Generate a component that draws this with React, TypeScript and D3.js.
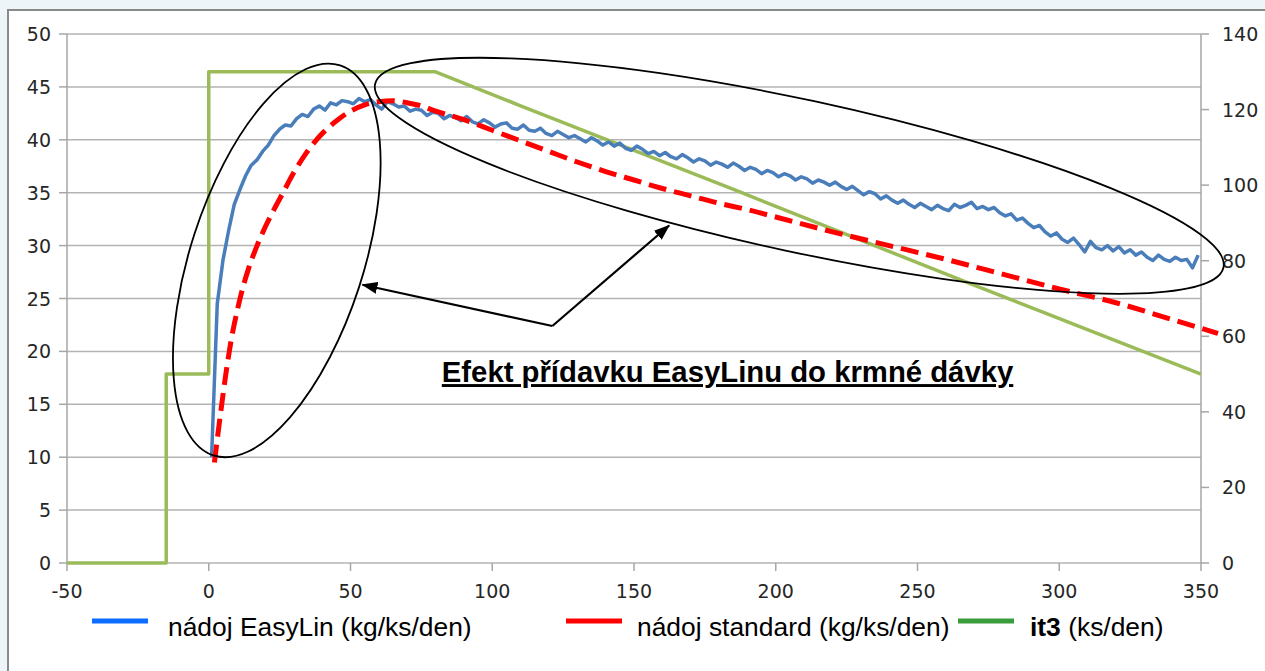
import React from "react";
import * as d3 from "d3";

// ---------- DATA ----------
const xTicks = [-50, 0, 50, 100, 150, 200, 250, 300, 350];
const yLeftTicks = [0, 5, 10, 15, 20, 25, 30, 35, 40, 45, 50];
const yRightTicks = [0, 20, 40, 60, 80, 100, 120, 140];

// nádoj EasyLin (kg/ks/den) — every 2nd day from day 1 to 349
const easyLinValues = [
  10.0, 24.5, 28.6, 31.4, 33.9, 35.3, 36.6, 37.6, 38.1, 38.9,
  39.5, 40.4, 41.0, 41.4, 41.3, 42.0, 42.4, 42.2, 42.9, 43.2,
  42.8, 43.5, 43.3, 43.7, 43.6, 43.4, 43.9, 43.6, 43.8, 43.3,
  42.9, 43.6, 43.4, 43.1, 43.2, 42.7, 42.9, 42.8, 42.3, 42.6,
  42.5, 42.0, 42.3, 42.1, 41.8, 42.2, 41.7, 41.5, 41.9, 41.6,
  41.2, 41.5, 41.6, 41.1, 41.0, 41.4, 40.9, 40.8, 41.1, 40.6,
  40.4, 40.8, 40.5, 40.2, 40.4, 40.1, 39.8, 40.2, 39.9, 39.5,
  39.8, 39.4, 39.7, 39.2, 39.0, 39.4, 39.1, 38.7, 38.9, 38.5,
  38.8, 38.4, 38.2, 38.6, 38.3, 37.9, 38.2, 38.0, 37.6, 37.9,
  37.7, 37.4, 37.8, 37.5, 37.1, 37.4, 37.2, 36.8, 37.1, 36.9,
  36.5, 36.8, 36.6, 36.2, 36.5, 36.3, 35.9, 36.2, 36.0, 35.7,
  36.0, 35.6, 35.3, 35.6, 35.2, 34.8, 35.1, 34.9, 34.4, 34.7,
  34.3, 34.0, 34.3, 33.9, 33.6, 34.0, 33.7, 33.4, 33.8, 33.5,
  33.3, 33.9, 33.6, 33.8, 34.1, 33.5, 33.7, 33.4, 33.6, 33.1,
  32.8, 33.0, 32.4, 32.6, 32.1, 31.7, 31.9, 31.3, 30.9, 31.2,
  30.6, 30.3, 30.7, 30.1, 29.4, 30.4, 29.8, 29.6, 30.0, 29.5,
  29.9, 29.3, 29.6, 29.1, 29.4, 28.9, 28.6, 29.1, 28.7, 28.5,
  28.9, 28.6, 28.7, 27.9, 29.1,
];
const easyLinDays = easyLinValues.map((_, i) => 1 + i * 2);

// nádoj standard (kg/ks/den)
const standardDays = [2, 4, 6, 8, 10, 12, 14, 16, 18, 20, 23, 26, 30, 34, 38, 42, 46, 50, 55, 60, 65, 70, 75, 79, 90, 100, 110, 120, 130, 140, 150, 160, 170, 180, 190, 200, 220, 240, 260, 280, 300, 320, 340, 356];
const standardValues = [9.5, 13.8, 17.8, 21.2, 23.8, 26.0, 27.8, 29.3, 30.6, 31.8, 33.4, 34.9, 36.9, 38.6, 40.0, 41.1, 42.0, 42.7, 43.3, 43.6, 43.7, 43.5, 43.2, 42.8, 41.9, 40.9, 39.9, 38.9, 37.9, 37.0, 36.2, 35.4, 34.7, 34.0, 33.4, 32.7, 31.3, 30.0, 28.7, 27.3, 25.9, 24.6, 23.0, 21.7];

// it3 (ks/den) — right axis
const it3Days = [-50, -15, -15, 0, 0, 80, 110, 186, 265, 350];
const it3Values = [0, 0, 50, 50, 130, 130, 121, 98.6, 75, 50];

const legendItems = [
  { label: "nádoj EasyLin (kg/ks/den)", bold: "", color: "#0b6cff" },
  { label: "nádoj standard (kg/ks/den)", bold: "", color: "#ff0000" },
  { label: " (ks/den)", bold: "it3", color: "#3a9c3a" },
];

const annotationText = "Efekt přídavku EasyLinu do krmné dávky";

// ---------- LAYOUT ----------
const W = 1265;
const H = 671;
const x = d3.scaleLinear().domain([-50, 350]).range([67, 1201]);
const yL = d3.scaleLinear().domain([0, 50]).range([563, 34]);
const yR = d3.scaleLinear().domain([0, 140]).range([563, 34]);

const axisFont = "'DejaVu Sans', Verdana, sans-serif";
const textFont = "'Liberation Sans', Arial, sans-serif";

export default function App() {
  const blueLine = d3
    .line<number>()
    .x((_, i) => x(easyLinDays[i]))
    .y((d) => yL(d))(easyLinValues) as string;
  const redLine = d3
    .line<number>()
    .x((_, i) => x(standardDays[i]))
    .y((d) => yL(d))
    .curve(d3.curveMonotoneX)(standardValues) as string;
  const greenLine = d3
    .line<number>()
    .x((_, i) => x(it3Days[i]))
    .y((d) => yR(d))(it3Values) as string;

  // annotations anchored in data space
  const leftEll = { cx: x(24), cy: yL(28.6) };
  const bigEll = { cx: x(208.3), cy: yL(36.6) };
  const arrowStart = { x: x(121.2), y: yL(22.4) };
  const arrowTip1 = { x: x(54.2), y: yL(26.3) };
  const arrowTip2 = { x: x(162.4), y: yL(31.9) };

  const legendX = [92, 566, 958];
  const legendTextX = [168, 637, 1030];

  return (
    <div style={{ position: "fixed", left: 0, top: 0, width: W, height: H }}>
      <svg width={W} height={H} viewBox={`0 0 ${W} ${H}`} style={{ display: "block" }}>
        <defs>
          <marker id="arrow" viewBox="0 0 16 12" refX="15" refY="6" markerWidth="16" markerHeight="12" markerUnits="userSpaceOnUse" orient="auto">
            <path d="M0,0 L16,6 L0,12 Z" fill="#000" />
          </marker>
        </defs>
        <rect x={0} y={0} width={W} height={H} fill="#eef5f9" />
        <rect x={8} y={10} width={W + 10} height={H + 10} fill="#ffffff" stroke="#8a8a8a" strokeWidth={2} />

        {/* gridlines */}
        {yLeftTicks.map((t) => (
          <line key={"g" + t} x1={x(-50)} x2={x(350)} y1={yL(t)} y2={yL(t)} stroke="#b3b3b3" strokeWidth={1.5} />
        ))}
        {/* axes */}
        <line x1={x(-50)} x2={x(-50)} y1={yL(0)} y2={yL(50)} stroke="#a6a6a6" strokeWidth={1.5} />
        <line x1={x(350)} x2={x(350)} y1={yL(0)} y2={yL(50)} stroke="#a6a6a6" strokeWidth={1.5} />
        {yLeftTicks.map((t) => (
          <g key={"yl" + t}>
            <line x1={x(-50) - 8} x2={x(-50)} y1={yL(t)} y2={yL(t)} stroke="#a6a6a6" strokeWidth={1.5} />
            <text x={51} y={yL(t) + 7} textAnchor="end" fontFamily={axisFont} fontSize={19} fill="#262626">
              {t}
            </text>
          </g>
        ))}
        {yRightTicks.map((t) => (
          <g key={"yr" + t}>
            <line x1={x(350)} x2={x(350) + 8} y1={yR(t)} y2={yR(t)} stroke="#a6a6a6" strokeWidth={1.5} />
            <text x={1222} y={yR(t) + 7} textAnchor="start" fontFamily={axisFont} fontSize={19} fill="#262626">
              {t}
            </text>
          </g>
        ))}
        {xTicks.map((t) => (
          <g key={"x" + t}>
            <line x1={x(t)} x2={x(t)} y1={yL(0)} y2={yL(0) + 8} stroke="#a6a6a6" strokeWidth={1.5} />
            <text x={x(t)} y={598} textAnchor="middle" fontFamily={axisFont} fontSize={19} fill="#262626">
              {t}
            </text>
          </g>
        ))}

        {/* series */}
        <path d={greenLine} fill="none" stroke="#9bbb59" strokeWidth={3.5} strokeLinejoin="round" />
        <path d={blueLine} fill="none" stroke="#4a7ebb" strokeWidth={3.5} strokeLinejoin="round" />
        <path d={redLine} fill="none" stroke="#ff0000" strokeWidth={5} strokeDasharray="18 8" />

        {/* annotations */}
        <ellipse cx={leftEll.cx} cy={leftEll.cy} rx={86.5} ry={205} transform={`rotate(18 ${leftEll.cx} ${leftEll.cy})`} fill="none" stroke="#000" strokeWidth={1.8} />
        <ellipse cx={bigEll.cx} cy={bigEll.cy} rx={434} ry={76} transform={`rotate(12.2 ${bigEll.cx} ${bigEll.cy})`} fill="none" stroke="#000" strokeWidth={1.8} />
        <line x1={arrowStart.x} y1={arrowStart.y} x2={arrowTip1.x} y2={arrowTip1.y} stroke="#000" strokeWidth={2.2} markerEnd="url(#arrow)" />
        <line x1={arrowStart.x} y1={arrowStart.y} x2={arrowTip2.x} y2={arrowTip2.y} stroke="#000" strokeWidth={2.2} markerEnd="url(#arrow)" />
        <text x={x(183)} y={yL(17.1)} textAnchor="middle" fontFamily={textFont} fontWeight="bold" fontSize={29.3} fill="#000" textDecoration="underline">
          {annotationText}
        </text>

        {/* legend */}
        {legendItems.map((it, i) => (
          <g key={"lg" + i}>
            <line x1={legendX[i]} x2={legendX[i] + 56} y1={621} y2={621} stroke={it.color} strokeWidth={5} />
            <text x={legendTextX[i]} y={636} fontFamily={textFont} fontSize={26.4} fill="#000">
              {it.bold ? <tspan fontWeight="bold">{it.bold}</tspan> : null}
              {it.label}
            </text>
          </g>
        ))}
      </svg>
    </div>
  );
}
